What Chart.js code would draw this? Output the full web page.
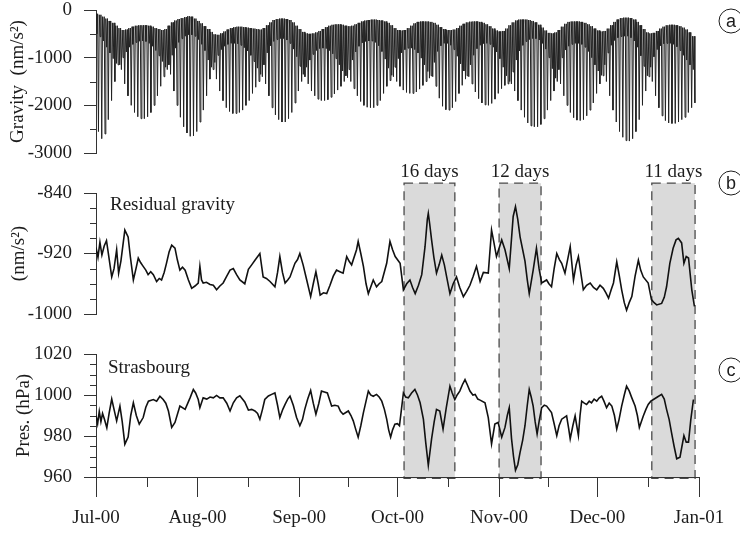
<!DOCTYPE html>
<html>
<head>
<meta charset="utf-8">
<script src="https://cdn.jsdelivr.net/npm/chart.js@4.4.1/dist/chart.umd.min.js"></script>
<style>
  html, body { margin: 0; padding: 0; background: #fff; }
  #wrap { position: relative; width: 740px; height: 534px; }
  #wrap canvas { position: absolute; left: 0; top: 0; }
</style>
</head>
<body>
<div id="wrap">
  <canvas id="presChart" width="740" height="534"></canvas>
  <canvas id="residChart" width="740" height="534"></canvas>
  <canvas id="gravChart" width="740" height="534"></canvas>
</div>
<script>
// x axis: days since 1 Jul 2000
const monthDays = [0, 31, 62, 92, 123, 153, 184];
const monthLabels = ['Jul-00', 'Aug-00', 'Sep-00', 'Oct-00', 'Nov-00', 'Dec-00', 'Jan-01'];
const midMonthDays = [15.5, 46.5, 77, 107.5, 138, 168.5];

// (a) tidal gravity, one entry per day: daily high, shallow low, deep low (nm/s2)
const gravHigh = [
  -80, -100, -140, -180, -230, -270, -330, -380, -420, -410,
  -380, -350, -330, -320, -320, -320, -330, -350, -380, -400,
  -420, -400, -330, -260, -220, -190, -170, -150, -130, -140,
  -180, -230, -280, -340, -400, -460, -510, -520, -490, -450,
  -410, -380, -360, -350, -350, -360, -370, -380, -390, -400,
  -410, -380, -320, -260, -210, -190, -180, -180, -190, -210,
  -260, -330, -400, -460, -490, -500, -490, -470, -440, -400,
  -360, -330, -310, -300, -300, -310, -330, -340, -330, -300,
  -270, -240, -220, -210, -200, -200, -210, -220, -240, -270,
  -320, -380, -420, -430, -420, -380, -330, -280, -250, -240,
  -240, -240, -250, -270, -310, -360, -400, -420, -420, -410,
  -380, -330, -290, -260, -245, -240, -240, -250, -270, -300,
  -340, -390, -430, -450, -440, -390, -320, -260, -220, -200,
  -200, -200, -210, -230, -260, -310, -370, -430, -480, -490,
  -470, -420, -350, -290, -250, -240, -240, -240, -250, -270,
  -300, -340, -390, -430, -450, -440, -390, -320, -250, -200,
  -170, -160, -160, -170, -200, -250, -320, -400, -470, -490,
  -480, -440, -390, -350, -320, -310, -310, -320, -340, -370,
  -410, -470, -550
];
const gravLowShallow = [
  -500, -560, -650, -780, -900, -1020, -1120, -1150, -1000, -880,
  -780, -720, -680, -655, -650, -660, -700, -760, -850, -960,
  -1080, -1200, -1150, -950, -800, -680, -600, -550, -520, -520,
  -550, -620, -720, -850, -1050, -1200, -1100, -950, -830, -760,
  -720, -700, -700, -710, -740, -790, -860, -950, -1080, -1220,
  -1350, -1150, -900, -750, -660, -620, -600, -600, -630, -700,
  -820, -980, -1180, -1350, -1200, -1050, -930, -850, -810, -800,
  -810, -850, -920, -1020, -1150, -1280, -1380, -1250, -1050, -880,
  -760, -690, -660, -650, -650, -680, -750, -870, -1030, -1220,
  -1370, -1200, -1020, -900, -830, -800, -800, -830, -900, -1010,
  -1150, -1290, -1380, -1100, -870, -750, -700, -700, -740, -830,
  -970, -1130, -1280, -1380, -1150, -950, -810, -740, -705, -700,
  -720, -780, -880, -1020, -1200, -1380, -1500, -1300, -1050, -860,
  -740, -660, -620, -600, -600, -630, -700, -820, -1000, -1230,
  -1430, -1250, -1000, -840, -760, -720, -700, -700, -720, -780,
  -870, -1000, -1150, -1280, -1370, -1150, -900, -740, -640, -580,
  -555, -550, -550, -580, -650, -780, -960, -1180, -1380, -1200,
  -980, -830, -750, -710, -700, -700, -720, -770, -850, -950,
  -1050, -1150, -1250
];
const gravLowDeep = [
  -2550, -2700, -2600, -2300, -1900, -1500, -1150, -1250, -1550, -1800,
  -2000, -2150, -2240, -2280, -2280, -2240, -2150, -2000, -1800, -1600,
  -1400, -1250, -1350, -1700, -2000, -2250, -2450, -2580, -2650, -2640,
  -2550, -2350, -2100, -1800, -1450, -1250, -1450, -1700, -1900, -2050,
  -2130, -2170, -2170, -2150, -2100, -2000, -1900, -1750, -1620, -1500,
  -1400, -1550, -1800, -2050, -2200, -2300, -2350, -2350, -2280, -2150,
  -1950, -1700, -1500, -1400, -1550, -1700, -1800, -1870, -1900, -1900,
  -1880, -1830, -1760, -1680, -1600, -1500, -1420, -1500, -1650, -1800,
  -1920, -2000, -2040, -2050, -2050, -2000, -1900, -1750, -1600, -1480,
  -1400, -1500, -1600, -1680, -1730, -1750, -1750, -1720, -1660, -1580,
  -1500, -1430, -1400, -1600, -1850, -2020, -2090, -2100, -2050, -1920,
  -1750, -1580, -1450, -1400, -1550, -1720, -1860, -1950, -1990, -2000,
  -1960, -1870, -1750, -1650, -1580, -1550, -1550, -1700, -1900, -2100,
  -2250, -2370, -2430, -2450, -2450, -2400, -2280, -2100, -1900, -1700,
  -1500, -1550, -1800, -2000, -2150, -2260, -2310, -2320, -2300, -2220,
  -2100, -1950, -1750, -1550, -1380, -1500, -1800, -2100, -2350, -2550,
  -2670, -2740, -2750, -2700, -2550, -2300, -2000, -1700, -1400, -1500,
  -1800, -2050, -2220, -2320, -2370, -2380, -2380, -2350, -2300, -2250,
  -2150, -2050, -1950
];

// (b) residual gravity (nm/s2)
const residDays = [
  0, 0.6, 1.2, 1.8, 2.5, 3.2, 3.7, 4.8, 5.5, 6.3, 6.9, 7.6, 8.8, 9.8, 10.5, 11.4, 12.2, 12.9, 13.6, 14.4,
  15.2, 15.9, 16.7, 17.5, 18.5, 19.3, 20, 20.8, 21.5, 22.3, 23.1, 24.1, 24.8, 25.6, 26.4, 27.2, 28.2, 29.2, 30.2, 31.2,
  31.7, 32.2, 32.7, 33.7, 34.8, 35.8, 36.8, 37.8, 38.8, 39.9, 40.9, 41.9, 42.9, 43.9, 45.4, 46.5, 47.5, 48.5, 50, 51,
  52, 53.1, 54.6, 55.4, 56.1, 56.9, 57.7, 58.5, 59.2, 60.7, 61.5, 62.2, 63.2, 64.3, 65.5, 66.3, 67.1, 67.8, 68.4, 69.4,
  70.4, 71.4, 72.4, 73.4, 74.4, 75.4, 76.5, 77.2, 78, 79.5, 80, 80.8, 81.6, 82.4, 83.1, 84.6, 85.6, 86.4, 87.2, 88.7,
  89.7, 90.5, 91.3, 92.8, 93.8, 94.8, 95.8, 96.6, 97.4, 98.4, 99.4, 100.4, 101.1, 101.4, 101.8, 102.4, 103.1, 103.9, 104.7, 105.5,
  106.3, 107, 108, 109, 110, 111, 112.1, 113.1, 114.1, 115.1, 116.1, 117.2, 118.2, 119.7, 120.7, 121.4, 122.2, 123.8, 124.8, 126.1,
  127.3, 128, 128.7, 129.4, 130.2, 130.9, 131.6, 132.2, 133.4, 134.4, 135.2, 136, 137.5, 138.2, 139, 139.8, 140.6, 141.4, 142.1, 143.1,
  144.7, 145.7, 146.5, 147.2, 148.7, 149.7, 150.8, 151.8, 152.8, 153.8, 154.8, 155.6, 156.4, 157.2, 157.9, 158.9, 159.7, 160.4, 161.2, 161.9,
  162.7, 163.5, 164.5, 165.5, 166.2, 167, 168.5, 169.5, 170.3, 171.1, 172.6, 173.4, 174.1, 175.1, 176.1, 177, 177.7, 178.7, 179.4, 180.1,
  180.8, 181.8, 182.6
];
const residVals = [
  -912, -925, -905, -922, -910, -903, -918, -951, -940, -915, -946, -930, -889, -898, -925, -955, -940, -926, -932, -937,
  -942, -948, -944, -948, -957, -953, -955, -945, -933, -918, -909, -913, -928, -942, -938, -942, -955, -966, -963, -959,
  -937, -955, -959, -958, -961, -962, -968, -963, -959, -950, -942, -940, -948, -955, -960, -941, -935, -929, -920, -951,
  -953, -957, -964, -945, -924, -945, -959, -955, -951, -933, -928, -920, -935, -955, -977, -960, -944, -960, -975, -972,
  -973, -962, -950, -942, -944, -946, -924, -930, -935, -915, -904, -920, -937, -960, -973, -955, -964, -960, -957, -933,
  -904, -915, -924, -933, -968, -960, -955, -965, -973, -962, -948, -911, -875, -867, -880, -902, -925, -946, -935, -922,
  -935, -951, -973, -960, -951, -965, -977, -970, -962, -950, -937, -957, -945, -946, -889, -905, -924, -902, -915, -940,
  -871, -858, -875, -898, -915, -930, -955, -973, -942, -913, -940, -959, -955, -960, -964, -940, -920, -928, -933, -946,
  -911, -955, -935, -924, -968, -962, -959, -965, -968, -962, -966, -972, -979, -968, -959, -931, -950, -968, -985, -995,
  -985, -977, -950, -929, -942, -951, -959, -981, -985, -988, -986, -978, -964, -933, -913, -902, -900, -906, -933, -924,
  -926, -968, -990
];

// (c) Strasbourg air pressure (hPa)
const presDays = [
  0, 0.5, 1, 1.5, 2, 2.6, 3.3, 4, 4.8, 5.5, 6.3, 7.3, 8, 8.8, 9.8, 10.6, 11.4, 12.3, 13.2, 14.4,
  15.2, 16, 17.5, 18.5, 19.5, 20.5, 21.3, 22.1, 23.1, 24.1, 25.6, 27.2, 28.7, 29.7, 30.4, 31.2, 31.7, 32.7, 33.8, 34.8,
  35.8, 36.8, 37.8, 38.8, 39.9, 40.9, 41.9, 42.9, 43.9, 45.4, 46.5, 47.5, 48.5, 49.3, 50, 50.8, 51.5, 52.6, 53.6, 54.6,
  55.4, 56.1, 57, 57.7, 58.5, 59.2, 60.2, 61.2, 62.2, 63, 63.7, 64.6, 65.5, 66.3, 67.1, 68, 68.8, 69.7, 70.6, 71.2,
  71.9, 72.9, 73.9, 74.6, 75.4, 77, 77.8, 78.5, 79.3, 80, 80.8, 81.6, 82.4, 83.1, 83.8, 84.6, 85.6, 86.4, 87.2, 88,
  88.7, 89.3, 89.9, 90.5, 91.2, 92, 92.6, 93.2, 93.8, 94.5, 95.3, 96.3, 97.3, 98.1, 98.9, 99.9, 100.6, 101.4, 102.4, 103.2,
  103.9, 104.9, 105.9, 106.9, 108, 108.7, 109.5, 110.2, 111, 111.8, 112.6, 113.3, 114.1, 115, 115.7, 116.5, 117.2, 118.7, 119.7, 120.7,
  121.7, 122.7, 123.8, 124.8, 125.5, 126.1, 126.8, 127.4, 128, 128.7, 129.4, 130.2, 130.9, 131.6, 132.2, 132.8, 133.4, 134, 134.6, 135.3,
  136, 136.8, 137.5, 139, 139.8, 140.6, 141.3, 142.1, 143.6, 144.2, 144.7, 145.5, 146.2, 146.7, 147.2, 147.7, 148.2, 149, 149.7, 150.5,
  151.2, 152, 152.8, 153.5, 154.3, 155, 155.8, 156.6, 157.4, 158.2, 158.9, 159.6, 160.4, 161.2, 161.9, 162.7, 163.5, 164.5, 165.2, 165.8,
  166.4, 167, 167.8, 168.5, 169.3, 170.1, 171.3, 172.6, 173.4, 174.1, 174.9, 175.6, 176.4, 177.2, 178.2, 178.8, 179.4, 180.1, 180.8, 181.5,
  182.3
];
const presVals = [
  990, 986, 992, 987, 991, 988, 984, 991, 998, 993, 987.4, 994.6, 987, 976, 979.5, 990, 996.2, 990, 985.8, 989,
  994, 997, 997.8, 997, 999.4, 997.8, 996, 992.2, 984.2, 986.6, 994.6, 993, 998.6, 1002.7, 1001, 997.8, 993.8, 998.6, 998, 999,
  998.6, 999.8, 998.6, 998.6, 996, 992.2, 996.2, 998.6, 999.6, 996.6, 992.6, 993, 992.2, 991, 988.2, 993, 997.8, 999.5, 1000.3, 1001,
  995, 989, 993, 995.4, 998, 999.4, 995, 989, 985, 988, 993, 998, 1002.2, 996, 990.6, 996, 1001.9, 1001.5, 1001, 998,
  994.6, 995, 994.6, 992, 990.6, 992.2, 990, 987.4, 983, 979.4, 985, 991.4, 997, 1001.9, 1000, 999.4, 1000.3, 999, 997, 993,
  988.2, 983, 979.4, 983, 985.8, 986, 985, 993, 1001, 999, 998.6, 1001, 1002.7, 1000, 996.2, 988.2, 977, 965.7, 978.6, 987,
  993, 992.2, 983.4, 994, 1004.3, 1001, 997.8, 1000, 1001.9, 1005, 1007.5, 1005, 1001.9, 1000, 1000.3, 998, 997.5, 996.2, 989, 976.1,
  985.8, 986.6, 979.4, 984.2, 990, 993.8, 978.6, 970, 963.3, 966, 972, 978, 985, 995, 1002.7, 999, 994.6, 987, 981, 988,
  993.8, 995, 994.6, 991.4, 986, 980.2, 985, 988.2, 989.8, 984, 978.6, 985, 989.8, 985, 980.2, 990, 997, 996, 995.4, 997,
  996.2, 998, 997, 998.5, 999.4, 997, 993.8, 996, 994.6, 990, 983.4, 988, 994.6, 1000, 1004.3, 1002, 998.6, 994.6, 990, 984.2,
  987, 989.8, 993, 995.4, 997, 997.8, 999, 1000.3, 998, 993, 988, 981.8, 975, 968.9, 969.7, 975, 980.2, 977, 977, 988,
  997.8
];

// shaded windows (days) spanning panels b and c
const boxStart = [94, 123, 169.6];
const boxEnd = [109.5, 135.8, 182.8];
const boxLabels = ['16 days', '12 days', '11 days'];
const boxTopResid = -827;   // top edge, in residual gravity units
const boxBottomPres = 959.3; // bottom edge, in pressure units

const serif = 'Liberation Serif';
const ink = '#1c1c1c';
const axisGrey = '#333';

// build tidal trace: high, shallow low, high, deep low for each day
const gravPts = [];
gravHigh.forEach((h, d) => {
  gravPts.push({x: d, y: h});
  gravPts.push({x: d + 0.25, y: gravLowShallow[d]});
  gravPts.push({x: d + 0.5, y: h});
  gravPts.push({x: d + 0.75, y: gravLowDeep[d]});
});
const residPts = residDays.map((d, i) => ({x: d, y: residVals[i]}));
const presPts = presDays.map((d, i) => ({x: d, y: presVals[i]}));

const yScale = (min, max, major, title, titlePad) => ({
  type: 'linear',
  min: min,
  max: max,
  afterFit: s => {
    s.width = 96;
    // labels may overhang the plot edge; don't let them shrink the plot
    s.paddingTop = 0;
    s.paddingBottom = 0;
  },
  afterBuildTicks: s => { s.ticks = major.map(v => ({value: v})); },
  grid: {drawOnChartArea: false, drawTicks: true, tickLength: 12, color: axisGrey, lineWidth: 1},
  border: {display: true, color: axisGrey, width: 1},
  ticks: {padding: 12, color: ink, font: {family: serif, size: 19}, callback: v => String(v)},
  title: {display: true, text: title, color: ink, font: {family: serif, size: 19}, padding: {top: titlePad, bottom: 0}}
});

const xHidden = {type: 'linear', min: 0, max: 184, display: false};

// minor ticks, panel labels, circled letters
const panelDecor = {
  id: 'panelDecor',
  afterDraw(chart, args, opts) {
    const ctx = chart.ctx;
    const area = chart.chartArea;
    const xs = chart.scales.x, ys = chart.scales.y;
    ctx.save();
    ctx.strokeStyle = axisGrey;
    ctx.lineWidth = 1;
    (opts.minorY || []).forEach(v => {
      const py = Math.round(ys.getPixelForValue(v)) + 0.5;
      ctx.beginPath();
      ctx.moveTo(area.left, py);
      ctx.lineTo(area.left - 6, py);
      ctx.stroke();
    });
    (opts.minorX || []).forEach(v => {
      const px = Math.round(xs.getPixelForValue(v)) + 0.5;
      ctx.beginPath();
      ctx.moveTo(px, area.bottom);
      ctx.lineTo(px, area.bottom + 10);
      ctx.stroke();
    });
    if (opts.label) {
      ctx.fillStyle = ink;
      ctx.font = '19px "' + serif + '"';
      ctx.textAlign = 'left';
      ctx.textBaseline = 'alphabetic';
      ctx.fillText(opts.label, area.left + opts.labelDx, area.top + opts.labelDy);
    }
    if (opts.letter) {
      const cx = area.right + 32, cy = area.top + opts.letterDy;
      ctx.strokeStyle = ink;
      ctx.beginPath();
      ctx.arc(cx, cy, 12, 0, Math.PI * 2);
      ctx.stroke();
      ctx.fillStyle = ink;
      ctx.font = '18px "Liberation Sans"';
      ctx.textAlign = 'center';
      ctx.textBaseline = 'middle';
      ctx.fillText(opts.letter, cx, cy + 1);
    }
    ctx.restore();
  }
};

let chartB = null;

// grey windows drawn under everything on the pressure canvas (lowest layer)
const shadeBoxes = {
  id: 'shadeBoxes',
  beforeDraw(chart) {
    if (!chartB) return;
    const ctx = chart.ctx;
    const xs = chart.scales.x;
    const top = chartB.scales.y.getPixelForValue(boxTopResid);
    const bottom = chart.scales.y.getPixelForValue(boxBottomPres);
    ctx.save();
    boxStart.forEach((s, i) => {
      const l = xs.getPixelForValue(s), r = xs.getPixelForValue(boxEnd[i]);
      ctx.fillStyle = '#dadada';
      ctx.fillRect(l, top, r - l, bottom - top);
      ctx.setLineDash([9, 6]);
      ctx.strokeStyle = '#4a4a4a';
      ctx.lineWidth = 1.3;
      ctx.strokeRect(l, top, r - l, bottom - top);
      ctx.setLineDash([]);
      ctx.fillStyle = ink;
      ctx.font = '19px "' + serif + '"';
      ctx.textAlign = 'center';
      ctx.textBaseline = 'alphabetic';
      ctx.fillText(boxLabels[i], (l + r) / 2, top - 6);
    });
    ctx.restore();
  }
};

const baseOpts = (padding, scales, decor) => ({
  responsive: false,
  animation: false,
  devicePixelRatio: 1,
  events: [],
  layout: {padding: padding},
  scales: scales,
  plugins: {legend: {display: false}, tooltip: {enabled: false}, panelDecor: decor}
});

const lineSet = (pts, width, color) => ({
  data: pts,
  borderColor: color,
  borderWidth: width,
  pointRadius: 0,
  tension: 0,
  fill: false
});

// (a) gravity
new Chart(document.getElementById('gravChart'), {
  type: 'line',
  data: {datasets: [lineSet(gravPts, 1, '#222')]},
  options: baseOpts(
    {top: 10, bottom: 381, left: 0, right: 41},
    {x: xHidden, y: yScale(-3000, 0, [0, -1000, -2000, -3000], 'Gravity  (nm/s\u00B2)', 7)},
    {minorY: [-500, -1500, -2500], letter: 'a', letterDy: 11}
  ),
  plugins: [panelDecor]
});

// (b) residual gravity
chartB = new Chart(document.getElementById('residChart'), {
  type: 'line',
  data: {datasets: [lineSet(residPts, 1.6, '#111')]},
  options: baseOpts(
    {top: 193, bottom: 220, left: 0, right: 41},
    {x: xHidden, y: yScale(-1000, -840, [-840, -920, -1000], '(nm/s\u00B2)', 8)},
    {minorY: [-860, -880, -900, -940, -960, -980], label: 'Residual gravity', labelDx: 14, labelDy: 17, letter: 'b', letterDy: -10}
  ),
  plugins: [panelDecor]
});

// (c) pressure with date axis
new Chart(document.getElementById('presChart'), {
  type: 'line',
  data: {datasets: [lineSet(presPts, 1.6, '#111')]},
  options: baseOpts(
    {top: 354, bottom: 1, left: 0, right: 41},
    {
      x: {
        type: 'linear',
        min: 0,
        max: 184,
        afterFit: s => { s.height = 56; },
        afterBuildTicks: s => { s.ticks = monthDays.map(v => ({value: v})); },
        grid: {drawOnChartArea: false, drawTicks: true, tickLength: 20, color: axisGrey, lineWidth: 1},
        border: {display: true, color: axisGrey, width: 1},
        ticks: {padding: 10, maxRotation: 0, autoSkip: false, color: ink,
          font: {family: serif, size: 19}, callback: (v, i) => monthLabels[i]}
      },
      y: yScale(960, 1020, [1020, 1000, 980, 960], 'Pres. (hPa)', 13)
    },
    {minorY: [1015, 1010, 1005, 995, 990, 985, 975, 970, 965], minorX: midMonthDays,
      label: 'Strasbourg', labelDx: 12, labelDy: 19, letter: 'c', letterDy: 16}
  ),
  plugins: [shadeBoxes, panelDecor]
});
</script>
</body>
</html>
